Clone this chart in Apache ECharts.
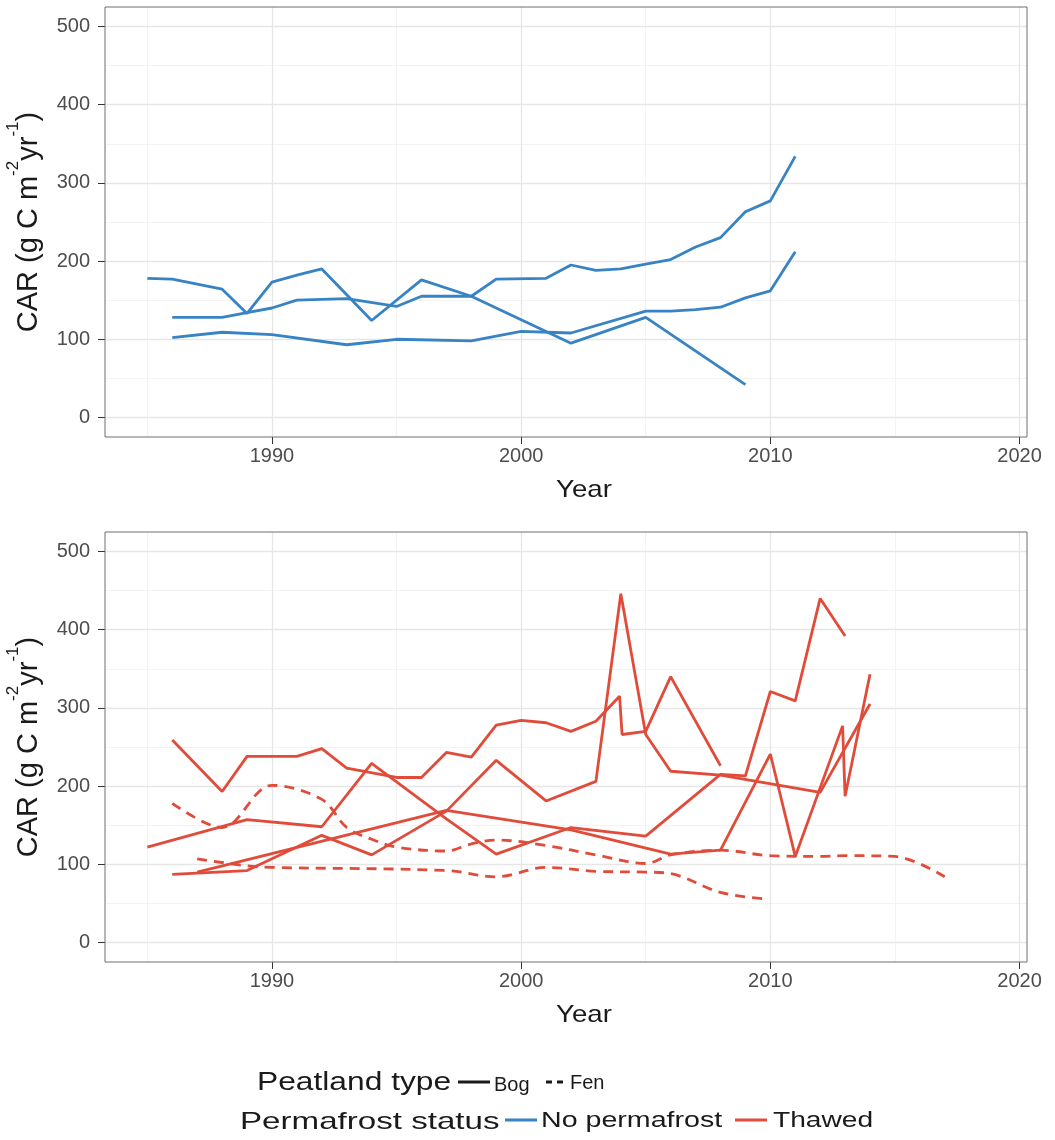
<!DOCTYPE html>
<html>
<head>
<meta charset="utf-8">
<script src="https://cdn.jsdelivr.net/npm/echarts@6/dist/echarts.min.js"></script>
<style>
  html, body { margin: 0; padding: 0; background: #ffffff; }
  #chart { width: 1055px; height: 1140px; }
</style>
</head>
<body>
<div id="chart"></div>
<script>
// tick values
const xTicks = [1990, 2000, 2010, 2020]
const yTicks = [0, 100, 200, 300, 400, 500]

// No permafrost, bog (top panel)
const npBog1Years = [1985, 1986, 1988, 1989, 1990, 1991, 1992, 1994, 1996, 1998, 2002, 2005, 2009]
const npBog1Vals = [178, 177, 164, 133, 173, 182, 190, 124, 176, 155, 95, 128, 42]

const npBog2Years = [1986, 1988, 1989, 1990, 1991, 1993, 1995, 1996, 1998, 1999, 2001, 2002, 2003, 2004, 2005, 2006, 2007, 2008, 2009, 2010, 2011]
const npBog2Vals = [128, 128, 134, 140, 150, 152, 142, 155, 155, 177, 178, 195, 188, 190, 196, 202, 218, 230, 263, 277, 334]

const npBog3Years = [1986, 1988, 1990, 1993, 1995, 1998, 2000, 2002, 2005, 2006, 2007, 2008, 2009, 2010, 2011]
const npBog3Vals = [102, 109, 106, 93, 100, 98, 110, 108, 136, 136, 138, 141, 153, 162, 212]

// Thawed, bog (bottom panel, solid)
const thBog1Years = [1986, 1988, 1989, 1991, 1992, 1993, 1995, 1996, 1997, 1998, 1999, 2000, 2001, 2002, 2003, 2003.95, 2004.05, 2005, 2006, 2008]
const thBog1Vals = [259, 193, 238, 238, 248, 223, 211, 211, 243, 237, 278, 284, 281, 270, 283, 315, 266, 270, 340, 226]

const thBog2Years = [1986, 1989, 1992, 1994, 1997, 1999, 2001, 2003, 2004, 2005, 2006, 2008, 2012, 2014]
const thBog2Vals = [87, 92, 137, 112, 168, 233, 181, 206, 446, 266, 219, 214, 192, 305]

const thBog3Years = [1985, 1989, 1992, 1994, 1997, 1999, 2002, 2005, 2008, 2009, 2010, 2011, 2012, 2013]
const thBog3Vals = [122, 157, 148, 229, 158, 113, 147, 136, 215, 213, 321, 309, 440, 392]

const thBog4Years = [1987, 1997, 2002, 2006, 2008, 2010, 2011, 2012.9, 2013, 2014]
const thBog4Vals = [90, 169, 144, 113, 118, 241, 110, 277, 187, 343]

// Thawed, fen (bottom panel, dashed)
const thFen1Years = [1986, 1988, 1990, 1992, 1993, 1994, 1995, 1997, 1998, 1999, 2001, 2003, 2005, 2006, 2008, 2010, 2012, 2013, 2015, 2017]
const thFen1Vals = [178, 147, 201, 183, 147, 132, 122, 117, 126, 131, 124, 112, 101, 112, 118, 111, 110, 111, 110, 84]

const thFen2Years = [1987, 1989, 1990, 1997, 1999, 2001, 2003, 2005, 2006, 2008, 2009.7]
const thFen2Vals = [107, 98, 96, 92, 84, 96, 91, 90, 88, 64, 56]

const BLUE = "#3783c4"
const RED = "#e04b3a"
const FONT = "Liberation Sans"

// 年份 + 数值 -> 点
const pairs = (years, vals) => years.map((y, i) => [y, vals[i]])

const chart = echarts.init(document.getElementById("chart"), null, { renderer: "canvas" })

// 主坐标轴 (刻度 + 标签 + 主网格)
const majorX = (gridIndex) => ({
  type: "value",
  gridIndex: gridIndex,
  min: 1983.3,
  max: 2020.3,
  splitNumber: 4,
  position: "bottom",
  z: 1,
  axisLine: { show: false, onZero: false },
  axisTick: { show: true, length: 7, customValues: xTicks, lineStyle: { color: "#333333", width: 1 } },
  axisLabel: {
    customValues: xTicks,
    formatter: (v) => String(v),
    margin: 9,
    color: "#4d4d4d",
    fontSize: 20,
    fontFamily: FONT
  },
  splitLine: { show: true, lineStyle: { color: "#e6e6e6", width: 1.3 } }
})

// 次网格线 (每5年)
const minorX = (gridIndex) => ({
  type: "value",
  gridIndex: gridIndex,
  min: 1983.3,
  max: 2020.3,
  splitNumber: 8,
  position: "top",
  z: 0,
  axisLine: { show: false, onZero: false },
  axisTick: { show: false },
  axisLabel: { show: false },
  splitLine: { show: true, showMinLine: false, showMaxLine: false, lineStyle: { color: "#f3f3f3", width: 1 } }
})

const majorY = (gridIndex) => ({
  type: "value",
  gridIndex: gridIndex,
  min: -25,
  max: 525,
  splitNumber: 5,
  position: "left",
  z: 1,
  axisLine: { show: false, onZero: false },
  axisTick: { show: true, length: 7, customValues: yTicks, lineStyle: { color: "#333333", width: 1 } },
  axisLabel: {
    customValues: yTicks,
    formatter: (v) => String(v),
    margin: 15,
    color: "#4d4d4d",
    fontSize: 20,
    fontFamily: FONT
  },
  splitLine: { show: true, lineStyle: { color: "#e6e6e6", width: 1.3 } }
})

const minorY = (gridIndex) => ({
  type: "value",
  gridIndex: gridIndex,
  min: -25,
  max: 525,
  splitNumber: 11,
  position: "right",
  z: 0,
  axisLine: { show: false, onZero: false },
  axisTick: { show: false },
  axisLabel: { show: false },
  splitLine: { show: true, showMinLine: false, showMaxLine: false, lineStyle: { color: "#f3f3f3", width: 1 } }
})

const lineSeries = (data, color, axis, dashed) => ({
  type: "line",
  data: data,
  xAxisIndex: axis,
  yAxisIndex: axis,
  showSymbol: false,
  symbol: "none",
  smooth: dashed ? 0.35 : false,
  silent: true,
  lineStyle: { color: color, width: 2.8, type: dashed ? [10, 7] : "solid" },
  z: 3
})

// y 轴标题 (带上标)
const yTitle = (cy) => ({
  type: "text",
  x: 29,
  y: cy,
  rotation: Math.PI / 2,
  style: {
    text: "{a|CAR (g C m}{s|-2}{a|yr}{s|-1}{a|)}",
    align: "center",
    verticalAlign: "middle",
    fill: "#1a1a1a",
    rich: {
      a: { fontSize: 29, fontFamily: FONT, fill: "#1a1a1a", lineHeight: 48 },
      s: { fontSize: 17, fontFamily: FONT, fill: "#1a1a1a", lineHeight: 17, verticalAlign: "top" }
    }
  }
})

const xTitle = (cy) => ({
  type: "text",
  x: 584,
  y: cy,
  scaleX: 1.15,
  style: { text: "Year", align: "center", verticalAlign: "middle", fontSize: 24, fontFamily: FONT, fill: "#1a1a1a" }
})

const legendText = (x, y, text, size, sx) => ({
  type: "text",
  x: x,
  y: y,
  scaleX: sx,
  style: { text: text, align: "left", verticalAlign: "middle", fontSize: size, fontFamily: FONT, fill: "#1a1a1a" }
})

const legendLine = (x1, x2, y, color, dashed) => ({
  type: "line",
  shape: { x1: x1, y1: y, x2: x2, y2: y },
  style: { stroke: color, lineWidth: 3, lineDash: dashed ? [6, 5] : null }
})

const option = {
  backgroundColor: "#ffffff",
  animation: false,
  grid: [
    { left: 105, top: 7, width: 922, height: 430, show: true, borderColor: "#6e6e6e", borderWidth: 1, z: 4 },
    { left: 105, top: 532, width: 922, height: 430, show: true, borderColor: "#6e6e6e", borderWidth: 1, z: 4 }
  ],
  xAxis: [majorX(0), minorX(0), majorX(1), minorX(1)],
  yAxis: [majorY(0), minorY(0), majorY(1), minorY(1)],
  series: [
    lineSeries(pairs(npBog1Years, npBog1Vals), BLUE, 0, false),
    lineSeries(pairs(npBog2Years, npBog2Vals), BLUE, 0, false),
    lineSeries(pairs(npBog3Years, npBog3Vals), BLUE, 0, false),
    lineSeries(pairs(thBog1Years, thBog1Vals), RED, 2, false),
    lineSeries(pairs(thBog2Years, thBog2Vals), RED, 2, false),
    lineSeries(pairs(thBog3Years, thBog3Vals), RED, 2, false),
    lineSeries(pairs(thBog4Years, thBog4Vals), RED, 2, false),
    lineSeries(pairs(thFen1Years, thFen1Vals), RED, 2, true),
    lineSeries(pairs(thFen2Years, thFen2Vals), RED, 2, true)
  ],
  graphic: [
    yTitle(222),
    yTitle(747),
    xTitle(490),
    xTitle(1015),
    // legend: peatland type
    legendText(257, 1083, "Peatland type", 25, 1.27),
    legendLine(458, 490, 1082, "#1a1a1a", false),
    legendText(494, 1085, "Bog", 20, 1),
    legendLine(546, 564, 1082, "#1a1a1a", true),
    legendText(570, 1083, "Fen", 20, 1),
    // legend: permafrost status
    legendText(240, 1122, "Permafrost status", 24, 1.38),
    legendLine(505, 537, 1120, BLUE, false),
    legendText(541, 1121, "No permafrost", 22, 1.3),
    legendLine(735, 767, 1120, RED, false),
    legendText(773, 1121, "Thawed", 22, 1.28)
  ]
}

chart.setOption(option)
</script>
</body>
</html>
